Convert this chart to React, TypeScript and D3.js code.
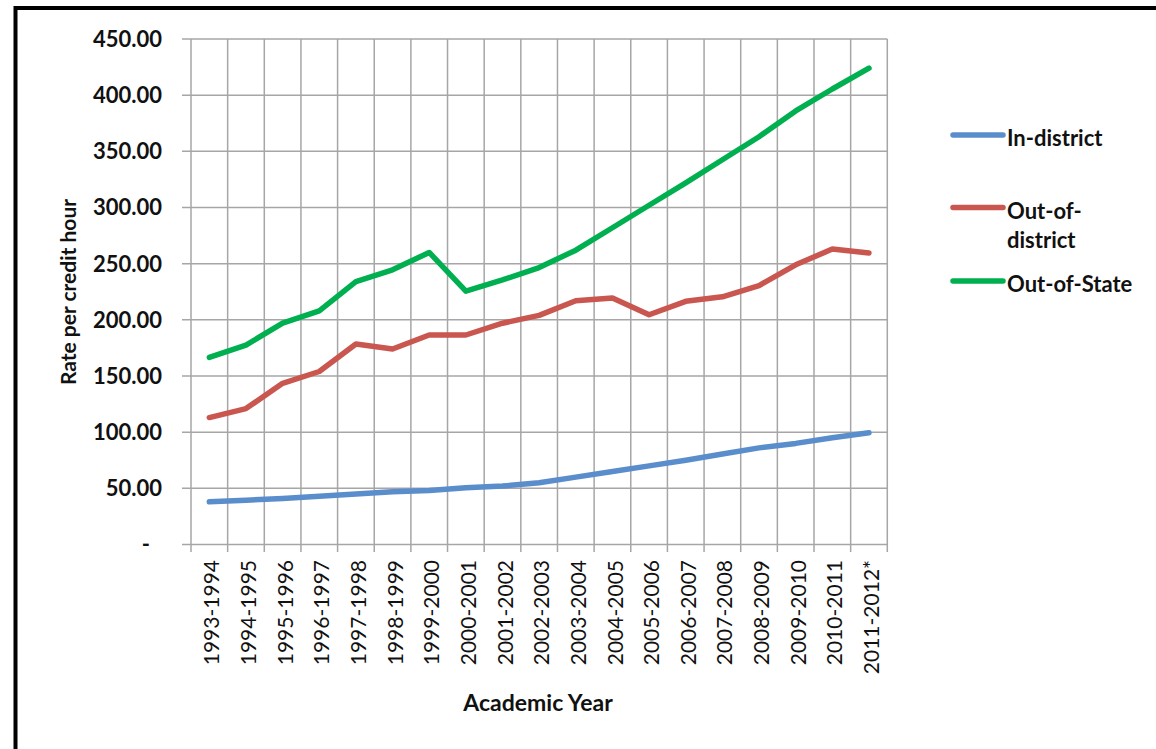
import React from "react";
import * as d3 from "d3";

// Academic years on the category axis
const years = [
  "1993-1994", "1994-1995", "1995-1996", "1996-1997", "1997-1998",
  "1998-1999", "1999-2000", "2000-2001", "2001-2002", "2002-2003",
  "2003-2004", "2004-2005", "2005-2006", "2006-2007", "2007-2008",
  "2008-2009", "2009-2010", "2010-2011", "2011-2012*",
];

// Tuition rate per credit hour, by residency
const inDistrict = [
  38, 39.5, 41, 43, 45, 47, 48, 50.5, 52, 55, 60, 65, 70, 75, 80.5, 86, 90, 95, 99.5,
];
const outOfDistrict = [
  113, 121, 143.5, 154, 178.5, 174, 186.5, 186.5, 197, 204, 217, 219.5, 204.5, 216.5,
  220.5, 230.5, 249, 263, 259.5,
];
const outOfState = [
  166.5, 177.5, 197, 208, 234, 244.5, 260, 225.5, 235.5, 246.5, 262, 282, 302, 322,
  342.5, 363, 386, 405.5, 424,
];

const yTicks = [0, 50, 100, 150, 200, 250, 300, 350, 400, 450];

const seriesNames = ["In-district", "Out-of-district", "Out-of-State"];
const seriesColors = ["#5A8DCB", "#C9564F", "#00B050"];

const W = 1156;
const H = 749;
const plot = { left: 191, right: 887.3, top: 39, bottom: 544.5 };
const FONT = "Lato, 'Open Sans', sans-serif";
const GRID = "#a6a6a6";
const INK = "#111";

export default function App() {
  const x = d3
    .scaleBand<string>()
    .domain(years)
    .range([plot.left, plot.right])
    .paddingInner(0)
    .paddingOuter(0);
  const y = d3.scaleLinear().domain([0, 450]).range([plot.bottom, plot.top]);
  const cx = (d: string) => (x(d) ?? 0) + x.bandwidth() / 2;

  const line = d3
    .line<number>()
    .x((_, i) => cx(years[i]))
    .y((v) => y(v));

  const series = [inDistrict, outOfDistrict, outOfState];
  const boundaries = years.map((d) => x(d) ?? 0).concat([plot.right]);

  const fmt = (v: number) => (v === 0 ? "-" : d3.format(".2f")(v));

  return (
    <svg
      width={W}
      height={H}
      style={{ position: "absolute", left: 0, top: 0, background: "#fff" }}
      fontFamily={FONT}
    >
      {/* outer frame */}
      <rect x={15.5} y={8} width={W + 20} height={H + 20} fill="none" stroke="#000" strokeWidth={4} />

      {/* horizontal gridlines with ticks */}
      {yTicks.map((t) => (
        <line
          key={"h" + t}
          x1={plot.left - 9}
          x2={plot.right}
          y1={y(t)}
          y2={y(t)}
          stroke={GRID}
          strokeWidth={1.5}
        />
      ))}
      {/* vertical gridlines at category boundaries, extending below the axis as ticks */}
      {boundaries.map((bx, i) => (
        <line
          key={"v" + i}
          x1={bx}
          x2={bx}
          y1={plot.top}
          y2={plot.bottom + 7.5}
          stroke={GRID}
          strokeWidth={1.5}
        />
      ))}

      {/* y tick labels */}
      {yTicks.map((t) => (
        <text
          key={"yl" + t}
          x={t === 0 ? 150 : 162}
          y={y(t)}
          dy="0.36em"
          textAnchor="end"
          fontWeight="bold"
          fontSize={22}
          fill={INK}
        >
          {fmt(t)}
        </text>
      ))}

      {/* x tick labels, rotated */}
      {years.map((d) => (
        <text
          key={"xl" + d}
          transform={`translate(${cx(d) + 2.5},560) rotate(-90)`}
          dy="0.36em"
          textAnchor="end"
          fontSize={21}
          fill={INK}
        >
          {d}
        </text>
      ))}

      {/* axis titles */}
      <text
        transform={`translate(68,292) rotate(-90)`}
        dy="0.36em"
        textAnchor="middle"
        fontWeight="bold"
        fontSize={21}
        fill={INK}
      >
        Rate per credit hour
      </text>
      <text x={538} y={703} dy="0.36em" textAnchor="middle" fontWeight="bold" fontSize={23} fill={INK}>
        Academic Year
      </text>

      {/* series */}
      {series.map((vals, i) => (
        <path
          key={"s" + i}
          d={line(vals) ?? ""}
          fill="none"
          stroke={seriesColors[i]}
          strokeWidth={5.5}
          strokeLinejoin="round"
          strokeLinecap="round"
        />
      ))}

      {/* legend */}
      {[
        { ly: 135, lines: ["In-district"] },
        { ly: 207.5, lines: ["Out-of-", "district"] },
        { ly: 281, lines: ["Out-of-State"] },
      ].map((item, i) => (
        <g key={"lg" + i}>
          <line
            x1={953}
            x2={1003}
            y1={item.ly}
            y2={item.ly}
            stroke={seriesColors[i]}
            strokeWidth={5.5}
            strokeLinecap="round"
          />
          <text
            x={1007}
            y={item.ly + 3.5}
            fontWeight="bold"
            fontSize={22}
            fill={INK}
            aria-label={seriesNames[i]}
          >
            {item.lines.map((t, j) => (
              <tspan key={j} x={1007} dy={j === 0 ? "0.36em" : 29}>
                {t}
              </tspan>
            ))}
          </text>
        </g>
      ))}
    </svg>
  );
}
